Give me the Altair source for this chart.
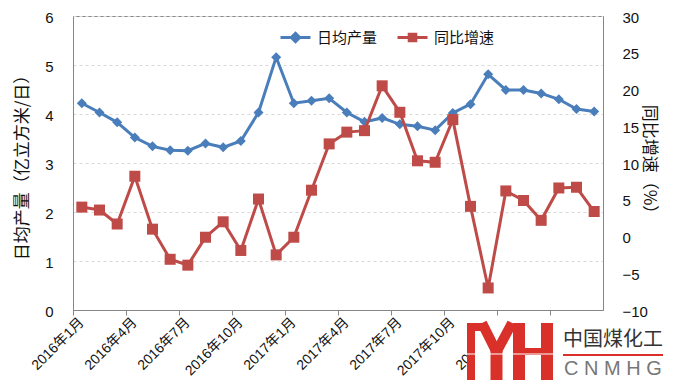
import altair as alt
import pandas as pd

months = [
    "2016年1月", "2016年2月", "2016年3月", "2016年4月", "2016年5月", "2016年6月",
    "2016年7月", "2016年8月", "2016年9月", "2016年10月", "2016年11月", "2016年12月",
    "2017年1月", "2017年2月", "2017年3月", "2017年4月", "2017年5月", "2017年6月",
    "2017年7月", "2017年8月", "2017年9月", "2017年10月", "2017年11月", "2017年12月",
    "2018年1月", "2018年2月", "2018年3月", "2018年4月", "2018年5月", "2018年6月",
]
tick_months = [
    "2016年1月", "2016年4月", "2016年7月", "2016年10月", "2017年1月",
    "2017年4月", "2017年7月", "2017年10月", "2018年1月", "2018年4月",
]
daily_output = [
    4.22, 4.03, 3.83, 3.52, 3.34, 3.26, 3.25, 3.40, 3.32, 3.45,
    4.03, 5.16, 4.22, 4.27, 4.32, 4.03, 3.84, 3.92, 3.79, 3.75,
    3.67, 4.02, 4.20, 4.81, 4.49, 4.49, 4.42, 4.30, 4.10, 4.05,
]
yoy_growth = [
    4.0, 3.6, 1.7, 8.2, 1.0, -3.1, -3.9, -0.1, 2.0, -1.9,
    5.1, -2.5, -0.1, 6.3, 12.6, 14.2, 14.4, 20.5, 16.9, 10.3,
    10.1, 15.9, 4.1, -7.0, 6.2, 4.9, 2.2, 6.6, 6.7, 3.4,
]
series_names = ["日均产量", "同比增速"]
left_ticks = [0, 1, 2, 3, 4, 5, 6]
right_ticks = [-10, -5, 0, 5, 10, 15, 20, 25, 30]

BLUE = "#4A7EBB"
RED = "#BE4B48"
FONT = "Noto Sans CJK SC"
NUMFONT = "Liberation Sans"
MIXFONT = "Liberation Sans, Noto Sans CJK SC"

df = pd.DataFrame({
    "month": months, "output": daily_output, "growth": yoy_growth,
    "s1": [series_names[0]] * len(months), "s2": [series_names[1]] * len(months),
})

W, H = 530, 294

x_enc = alt.X(
    "month:N",
    sort=months,
    scale=alt.Scale(type="band", paddingInner=0, paddingOuter=0),
    axis=alt.Axis(
        values=tick_months, bandPosition=0,
        labelAngle=-45, labelAlign="right", labelBaseline="middle",
        tickSize=5, labelPadding=5, title=None, grid=False, zindex=0,
        domainColor="#868686", tickColor="#868686",
        labelFont=MIXFONT, labelFontSize=14, labelColor="#111",
    ),
)

left_axis = alt.Axis(
    values=left_ticks, orient="left", grid=True, gridDash=[3, 3], gridColor="#D9D9D9",
    ticks=False, domainColor="#868686", labelPadding=20, labelOffset=1,
    labelFont=NUMFONT, labelFontSize=15, labelColor="#111",
    title="日均产量（亿立方米/日）", titleFont=FONT, titleFontSize=17,
    titleFontWeight="normal", titleColor="#111", titlePadding=13,
)
right_axis = alt.Axis(
    values=right_ticks, orient="right", grid=False, ticks=False,
    domainColor="#868686", labelPadding=19, labelOffset=1,
    labelFont=NUMFONT, labelFontSize=15, labelColor="#111",
    title="同比增速（%）", titleFont=FONT, titleFontSize=17, titleAngle=90,
    titleFontWeight="normal", titleColor="#111",
    titleX=45, titleY=H / 2, titleAlign="center", titleBaseline="middle",
)

base = alt.Chart(df)

diamond_path = "M-1,0H1M0,-0.28L0.28,0L0,0.28L-0.28,0Z"
square_path = "M-1,0H1M-0.22,-0.22H0.22V0.22H-0.22Z"

def legend(path, color, lx):
    return alt.Legend(
        title=None, orient="none", legendX=lx, legendY=5,
        symbolType=path, symbolSize=900, symbolStrokeWidth=3,
        symbolFillColor=color, symbolStrokeColor=color, symbolOpacity=1,
        labelFont=FONT, labelFontSize=15, labelColor="#111", labelOffset=5,
        padding=0,
    )

y_left = alt.Y("output:Q", scale=alt.Scale(domain=[0, 6], nice=False, zero=False), axis=left_axis)
y_right = alt.Y("growth:Q", scale=alt.Scale(domain=[-10, 30], nice=False, zero=False), axis=right_axis)

blue_line = base.mark_line(strokeWidth=3, color=BLUE).encode(x=x_enc, y=y_left)
blue_pts = base.mark_point(shape="diamond", filled=True, size=100, opacity=1).encode(
    x=x_enc, y=y_left,
    color=alt.Color("s1:N", scale=alt.Scale(domain=[series_names[0]], range=[BLUE]),
                    legend=legend(diamond_path, BLUE, 206)),
)
red_line = base.mark_line(strokeWidth=3, color=RED).encode(x=x_enc, y=y_right)
red_pts = base.mark_point(shape="square", filled=True, size=121, opacity=1).encode(
    x=x_enc, y=y_right,
    color=alt.Color("s2:N", scale=alt.Scale(domain=[series_names[1]], range=[RED]),
                    legend=legend(square_path, RED, 323)),
)

left = alt.layer(blue_line, blue_pts)
right = alt.layer(red_line, red_pts)

# watermark logo (decoration), positions relative to the plot area
one = pd.DataFrame({"a": [0]})
LOGO = "#D9302A"
def rule(x1, y1, x2, y2, sw, color=LOGO):
    return alt.Chart(one).mark_rule(strokeWidth=sw, color=color).encode(
        x=alt.value(x1), y=alt.value(y1), x2=alt.value(x2), y2=alt.value(y2))

logo = [
    alt.Chart(one).mark_rect(color="white").encode(
        x=alt.value(394), x2=alt.value(600), y=alt.value(301), y2=alt.value(372)),
    rule(398, 307, 398, 366, 8),
    rule(394, 311, 411, 311, 8),
    rule(409, 307, 424, 337, 10),
    rule(439, 307, 423, 337, 10),
    rule(423.5, 334, 423.5, 366, 12),
    rule(446, 307, 446, 366, 12),
    rule(474, 307, 474, 366, 12),
    rule(446, 335.5, 474, 335.5, 7),
    rule(392, 338, 481, 338, 1.2, "white"),
    alt.Chart(one).mark_text(text="中国煤化工", font=FONT, fontSize=20, color="#333",
                             align="left", baseline="middle").encode(
        x=alt.value(490), y=alt.value(324)),
    rule(490, 339, 590, 339, 2),
    alt.Chart(one).mark_text(text="C N M H G", font=NUMFONT, fontSize=20, color="#777",
                             align="center", baseline="alphabetic").encode(
        x=alt.value(540), y=alt.value(359)),
]

chart = alt.layer(left, right, *logo).resolve_scale(
    y="independent", color="independent"
).properties(
    width=W, height=H,
    autosize=alt.AutoSizeParams(type="none"),
    padding={"left": 65, "top": 8, "right": 63, "bottom": 70},
).configure_view(stroke="#868686", strokeWidth=1)

chart.save("out.html", embed_options={"renderer": "svg", "actions": False})
